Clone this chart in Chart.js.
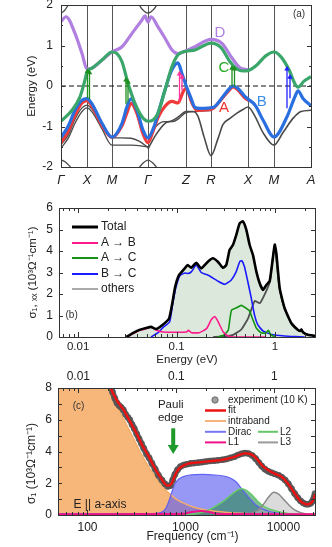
<!DOCTYPE html>
<html><head><meta charset="utf-8">
<script src="https://cdn.jsdelivr.net/npm/chart.js@4.4.0/dist/chart.umd.min.js"></script>
<style>
html,body{margin:0;padding:0;background:#fff;width:332px;height:547px;overflow:hidden;position:relative}
canvas{position:absolute;left:0}
#ca{top:0}
#cb{top:190px}
#cc{top:365px}
</style></head><body>
<canvas id="ca" width="332" height="190"></canvas>
<canvas id="cb" width="332" height="181"></canvas>
<canvas id="cc" width="332" height="182"></canvas>
<script>
// ---------- Panel (a): band structure ----------
const kPos = [0, 26, 51, 87, 125, 150, 187, 213, 250];
const kLabels = ['Γ', 'X', 'M', 'Γ', 'Z', 'R', 'X', 'M', 'A'];
const eTicks = [-2, -1, 0, 1, 2];
const bandC = [[0,-0.87],[11,-0.6],[19,-0.27],[24,0.15],[26,0.35],[31,0.44],[41,0.64],[51,0.84],[56,0.8],[61,0.6],[67,0.07],[74,-0.43],[81,-0.76],[87,-0.87],[92,-0.84],[97,-0.67],[104,-0.1],[111,0.48],[117,0.77],[125,0.86],[134,0.89],[150,1.06],[160,0.95],[169,0.6],[176,0.42],[182,0.37],[187,0.38],[195,0.5],[205,0.75],[213,0.84],[220,0.72],[228,0.4],[234,0.05],[237,-0.03],[243,0.12],[250,0.23]];
const bandD = [[0,1.59],[5,1.71],[14,1.3],[21,0.8],[26,0.42],[31,0.44],[41,0.64],[51,0.84],[61,0.97],[71,1.3],[81,1.63],[84,1.73],[87,1.58],[90,1.71],[97,1.46],[104,1.18],[111,0.89],[117,0.8],[125,0.87],[134,0.97],[150,1.15],[161,1.05],[171,0.69],[179,0.45],[187,0.4]];
const bandB = [[0,-1.27],[7,-1.0],[14,-0.6],[21,-0.35],[26,-0.31],[31,-0.44],[41,-0.92],[51,-1.26],[61,-0.92],[66,-0.51],[70,-0.32],[76,-0.6],[82,-1.09],[87,-1.28],[93,-1.0],[98,-0.6],[104,-0.1],[110,0.35],[117,0.57],[121,0.3],[125,0.02],[130,-0.3],[134,-0.53],[139,-0.55],[152,-0.53],[162,-0.26],[169,-0.05],[172,0.0],[177,-0.06],[184,-0.26],[187,-0.32],[194,-0.47],[202,-0.84],[213,-1.26],[226,-0.76],[234,-0.26],[237,-0.12],[242,-0.31],[250,-0.49]];
const bandA = [[0,-1.4],[7,-1.12],[14,-0.72],[21,-0.42],[26,-0.36],[31,-0.5],[41,-0.97],[51,-1.27],[61,-0.98],[66,-0.66],[70,-0.43],[76,-0.68],[82,-1.18],[87,-1.4],[92,-1.12],[97,-0.78],[104,-0.5],[111,-0.38],[117,-0.42],[122,-0.15],[125,-0.06],[131,-0.42],[136,-0.6],[150,-0.58],[162,-0.28],[169,-0.08],[172,-0.02],[177,-0.1],[184,-0.3],[188,-0.36]];
const greyA1 = [[0,-1.45],[7,-1.22],[14,-0.82],[21,-0.54],[26,-0.47],[31,-0.57],[41,-0.98],[51,-1.28],[60,-1.28],[70,-1.29],[78,-1.36],[87,-1.52]];
const greyA2 = [[0,-1.53],[7,-1.3],[14,-0.92],[21,-0.63],[26,-0.54],[31,-0.64],[41,-1.06],[51,-1.46],[70,-1.46],[87,-1.5]];
const greyB1 = [[87,-1.55],[95,-1.2],[104,-0.92],[111,-0.86],[118,-0.75],[125,-0.63],[132,-0.63],[137,-0.75],[143,-1.25],[150,-1.72],[157,-1.3],[162,-0.95],[169,-0.8],[176,-0.67],[182,-0.58],[187,-0.52],[194,-0.75],[202,-1.15],[213,-1.46],[222,-1.15],[232,-0.8],[240,-0.63],[250,-0.6]];
const greyB2 = [[87,-1.3],[95,-1.0],[103,-0.88],[112,-0.88],[118,-0.8],[125,-0.66],[135,-0.63],[150,-0.61]];
const arcTop1 = [[0,1.8],[3,1.85],[6,1.95],[8,2.05]];
const arcTop2 = [[77,2.05],[81,1.9],[87,1.8],[93,1.9],[97,2.05]];
const arcBot1 = [[0,-1.82],[4,-1.87],[8,-1.96],[11,-2.05]];
const arcBot2 = [[77,-2.05],[81,-1.93],[87,-1.83],[93,-1.93],[97,-2.05]];
const fermiLine = [[0,0],[250,0]];
// arrows: [k, E start, E end]
const arrowsAC = [[26.5,-0.3,0.36],[28.5,-0.33,0.33],[65,-0.45,0.15],[67,-0.4,0.1],[171,0.0,0.44],[173.5,-0.02,0.42]];
const arrowsAB = [[118.5,-0.38,0.3],[121,-0.12,0.22]];
const arrowsBC = [[226,-0.55,0.42],[229,-0.3,0.22]];

// ---------- Panel (b): calculated sigma_1,xx ----------
const bTicks = [0.01, 0.1, 1];
const totalB = [[0.031,0],[0.036,0.18],[0.042,0.33],[0.049,0.42],[0.055,0.47],[0.062,0.37],[0.072,0.56],[0.084,0.86],[0.09,1.5],[0.097,2.35],[0.105,2.85],[0.114,3.05],[0.121,3.19],[0.13,3.35],[0.141,3.22],[0.1585,3.45],[0.178,3.19],[0.208,3.5],[0.234,3.66],[0.263,3.5],[0.296,3.22],[0.32,3.35],[0.346,4.05],[0.374,4.28],[0.404,4.74],[0.438,5.29],[0.473,5.38],[0.512,4.98],[0.553,4.28],[0.598,3.81],[0.647,3.04],[0.699,2.5],[0.756,2.19],[0.818,2.42],[0.884,2.6],[0.955,3.73],[0.994,4.3],[1.033,3.89],[1.117,2.26],[1.255,1.33],[1.47,0.64],[1.71,0.33],[1.8,0.28],[1.85,0.35],[1.93,0.22],[2.16,0.1],[2.55,0.05]];
const abB = [[0.031,0],[0.0363,0.16],[0.0424,0.31],[0.0515,0.42],[0.0557,0.47],[0.0626,0.31],[0.0732,0.23],[0.1,0.22],[0.1263,0.23],[0.1314,0.31],[0.142,0.2],[0.17,0.2],[0.2019,0.39],[0.225,0.8],[0.244,0.95],[0.2653,0.7],[0.2983,0.23],[0.3353,0.05],[0.377,0],[0.8,0]];
const acB = [[0.26,0],[0.3,0.08],[0.335,0.31],[0.35,0.9],[0.3625,1.25],[0.4065,1.36],[0.455,1.47],[0.5163,1.32],[0.553,1.2],[0.598,0.79],[0.647,0.41],[0.72,0.2],[0.8,0.18],[0.857,0.31],[0.9036,0.11],[1.0,0]];
const bcB = [[0.055,0],[0.065,0.2],[0.073,0.45],[0.085,0.7],[0.091,1.48],[0.098,2.26],[0.108,2.85],[0.1215,2.98],[0.131,2.95],[0.142,3.04],[0.1585,3.35],[0.178,3.0],[0.208,2.88],[0.263,2.6],[0.31,2.45],[0.36,2.65],[0.404,3.04],[0.438,3.5],[0.46,3.55],[0.49,3.27],[0.53,2.57],[0.575,1.8],[0.62,1.02],[0.67,0.56],[0.756,0.28],[0.92,0.12],[1.25,0.05],[1.6,0.02],[2.0,0.0]];
const othersB = [[0.236,0],[0.3,0.03],[0.377,0.1],[0.455,0.35],[0.533,0.87],[0.598,1.5],[0.625,1.68],[0.7,1.57],[0.78,1.95],[0.884,2.55],[0.94,3.5],[0.994,4.28],[1.04,3.5],[1.117,2.2],[1.255,1.3],[1.47,0.62],[1.71,0.31],[1.8,0.27],[1.85,0.34],[1.93,0.2],[2.16,0.1],[2.55,0.05]];

// ---------- Panel (c): measured sigma_1 and fit ----------
const cTicks = [100, 1000, 10000];
const cTopTicks = [0.01, 0.1, 1];
const expC = [[140,9.9],[150,9.4],[160,8.8],[170,8.2],[180,7.75],[190,7.35],[200,7.05],[210,6.9],[220,6.78],[232,6.62],[245,6.35],[258,6.15],[270,6.0],[285,5.7],[300,5.45],[318,5.1],[336,4.8],[355,4.5],[375,4.2],[400,3.85],[425,3.6],[455,3.25],[490,2.9],[530,2.5],[575,2.2],[620,1.95],[660,1.8],[700,1.85],[740,2.2],[780,2.55],[830,2.85],[890,3.05],[960,3.15],[1040,3.2],[1130,3.25],[1230,3.27],[1350,3.3],[1480,3.33],[1620,3.37],[1780,3.4],[1950,3.42],[2150,3.45],[2380,3.48],[2620,3.53],[2880,3.6],[3150,3.67],[3450,3.78],[3750,3.86],[4050,3.9],[4400,3.87],[4800,3.75],[5200,3.55],[5600,3.3],[6000,3.08],[6500,2.88],[7000,2.75],[7600,2.66],[8200,2.58],[8900,2.5],[9600,2.38],[10400,2.2],[11200,1.97],[12100,1.65],[13000,1.35],[14000,1.08],[15000,0.88],[16000,0.75],[17000,0.68],[18000,0.68],[19000,0.74],[19800,0.88],[20500,1.1],[21000,1.35]];
const fitC = [[50,14],[100,11.5],[150,9],[172,8.0],[200,7.2],[235,6.6],[255,6.2],[286,5.65],[322,5.05],[362,4.4],[425,3.65],[496,2.85],[580,2.2],[655,1.85],[707,1.9],[760,2.3],[800,2.63],[860,2.92],[930,3.08],[1090,3.25],[1230,3.28],[1450,3.33],[1700,3.38],[2000,3.42],[2300,3.46],[2700,3.55],[3150,3.66],[3600,3.8],[4100,3.88],[4500,3.86],[5000,3.72],[5500,3.45],[6000,3.15],[6900,2.85],[8000,2.62],[9500,2.42],[11000,2.02],[13000,1.37],[15000,0.86],[16500,0.7],[17500,0.67],[18500,0.7],[19500,0.8],[20500,1.05],[21000,1.3]];
const intraC = [[50,14],[100,11],[150,9],[165,8],[200,6.9],[240,5.9],[290,4.9],[350,3.9],[425,3.0],[500,2.35],[580,1.8],[700,1.3],[850,0.9],[1000,0.7],[1200,0.5],[1600,0.32],[2500,0.18],[4000,0.1],[8000,0.06],[21000,0.04]];
const diracC = [[50,0.08],[450,0.09],[560,0.15],[620,0.35],[680,0.9],[730,1.5],[780,1.95],[850,2.25],[950,2.42],[1100,2.52],[1500,2.56],[2000,2.52],[2500,2.44],[2900,2.32],[3300,2.08],[3700,1.7],[4100,1.35],[4700,0.92],[5300,0.6],[6000,0.4],[7000,0.25],[8100,0.15],[10000,0.08],[13000,0.04],[21000,0.02]];
const l1C = [[50,0.05],[800,0.06],[1000,0.1],[1200,0.2],[1450,0.25],[1700,0.2],[2000,0.1],[2500,0.06],[21000,0.05]];
const l2C = [[1000,0],[1300,0.1],[1700,0.3],[2100,0.6],[2600,1.0],[3100,1.4],[3700,1.65],[4200,1.55],[4700,1.3],[5400,0.9],[6300,0.55],[8000,0.28],[11000,0.1],[15000,0.03],[21000,0.01]];
const l3C = [[3000,0],[4500,0.1],[5500,0.3],[6300,0.7],[7000,1.1],[8000,1.43],[9000,1.3],[10000,1.0],[11500,0.6],[13000,0.32],[15000,0.15],[18000,0.05],[21000,0.02]];
const CM_PER_EV = 8065.5;

// ---------- helpers ----------
Chart.defaults.font.family = "'Liberation Sans', Arial, Helvetica, sans-serif";
Chart.defaults.font.size = 12;
Chart.defaults.color = '#222';
const FONT = "'Liberation Sans', Arial, sans-serif";
const pts = arr => arr.map(([x, y]) => ({x, y}));
function ln(arr, color, width, order, extra) {
  return Object.assign({data: pts(arr), borderColor: color, backgroundColor: color, borderWidth: width,
    pointRadius: 0, fill: false, cubicInterpolationMode: 'monotone', order}, extra || {});
}
function arrowSets(list, color) {
  return list.map(([k, e0, e1]) => ({data: [{x:k, y:e0}, {x:k, y:e1}], borderColor: color, backgroundColor: color,
    borderWidth: 1.3, pointRadius: [0, 3.2], pointStyle: 'triangle', pointBorderWidth: 0, tension: 0, fill: false, order: 0}));
}
const fixW = w => s => { s.width = w; s.paddingTop = 0; s.paddingBottom = 0; s.paddingLeft = 0; s.paddingRight = 0; };
const fixH = h => s => { s.height = h; s.paddingLeft = 0; s.paddingRight = 0; s.paddingTop = 0; s.paddingBottom = 0; };
const setTicks = vals => s => { s.ticks = vals.map(v => ({value: v})); };
function logMinor(min, max) {
  const out = [];
  for (let e = Math.floor(Math.log10(min)); e <= Math.ceil(Math.log10(max)); e++)
    for (let d = 1; d <= 9; d++) { const v = d * Math.pow(10, e); if (v > min * 1.0001 && v < max * 0.9999) out.push({v, major: d === 1}); }
  return out;
}
function range(a, b, s) { const o = []; for (let v = a; v <= b + 1e-9; v += s) o.push(+v.toFixed(3)); return o; }
function framePlugin(cfg) {
  return { id: 'frame', afterDatasetsDraw(chart) {
    const {ctx, chartArea: a} = chart;
    ctx.save(); ctx.strokeStyle = '#333'; ctx.lineWidth = 1; ctx.beginPath();
    (cfg.y || []).forEach(t => { const s = chart.scales[t.scale || 'y'];
      t.values.forEach(v => { const p = Math.round(s.getPixelForValue(v)) + 0.5;
        ctx.moveTo(a.left, p); ctx.lineTo(a.left + t.len, p); ctx.moveTo(a.right, p); ctx.lineTo(a.right - t.len, p); }); });
    (cfg.x || []).forEach(t => { const s = chart.scales[t.scale];
      t.values.forEach(o => { const p = Math.round(s.getPixelForValue(o.v)) + 0.5; const L = o.major ? 5 : 3;
        if (t.side === 'bottom') { ctx.moveTo(p, a.bottom); ctx.lineTo(p, a.bottom - L); }
        else { ctx.moveTo(p, a.top); ctx.lineTo(p, a.top + L); } }); });
    ctx.stroke();
    ctx.strokeStyle = '#333';
    ctx.strokeRect(Math.round(a.left) + 0.5, Math.round(a.top) + 0.5, Math.round(a.right - a.left), Math.round(a.bottom - a.top));
    ctx.restore(); } };
}
function textPlugin(items) {
  return { id: 'txt', afterDatasetsDraw(chart) {
    const ctx = chart.ctx; ctx.save(); ctx.textBaseline = 'middle';
    items.forEach(it => {
      const x = chart.scales.x.getPixelForValue(it.x), y = chart.scales.y.getPixelForValue(it.y);
      ctx.font = it.font; ctx.fillStyle = it.color || '#222'; ctx.textAlign = it.align || 'center';
      ctx.fillText(it.text, x, y);
    }); ctx.restore(); } };
}
function legendPlugin(items, font) {
  return { id: 'lg', afterDatasetsDraw(chart) {
    const {ctx, chartArea: a} = chart; ctx.save(); ctx.font = font; ctx.textBaseline = 'middle'; ctx.textAlign = 'left';
    items.forEach(it => { const y = a.top + it.dy;
      if (it.circle) { ctx.beginPath(); ctx.arc(a.left + it.cx, y, 3.2, 0, Math.PI * 2); ctx.fillStyle = it.color; ctx.fill();
        ctx.strokeStyle = 'rgba(60,60,60,0.8)'; ctx.lineWidth = 0.8; ctx.stroke(); }
      else { ctx.strokeStyle = it.color; ctx.lineWidth = it.width; ctx.beginPath(); ctx.moveTo(a.left + it.x0, y); ctx.lineTo(a.left + it.x1, y); ctx.stroke(); }
      ctx.fillStyle = '#222'; ctx.fillText(it.text, a.left + it.tx, y); });
    ctx.restore(); } };
}
const baseOpts = () => ({responsive: false, animation: false, events: [], plugins: {legend: {display: false}, tooltip: {enabled: false}}});

// ---------- Chart (a) ----------
const GRN = '#3aa66a', PUR = '#b07fe0', BLU = '#2a6fe0', RED = '#f03a3a', GRY = '#4a4a4a';
const optsA = baseOpts();
optsA.layout = {padding: {left: 0, right: 21, top: 5, bottom: 0}};
optsA.scales = {
  x: {type: 'linear', min: 0, max: 250, afterBuildTicks: setTicks(kPos), afterFit: fixH(23),
      ticks: {callback: (v, i) => kLabels[i], font: {size: 13, style: 'italic'}, padding: 6, autoSkip: false, maxRotation: 0},
      grid: {display: true, color: '#555', lineWidth: 1, drawTicks: false}, border: {display: false}},
  y: {min: -2, max: 2, afterBuildTicks: setTicks(eTicks), afterFit: fixW(61),
      ticks: {padding: 8, font: {size: 12}}, grid: {display: false, drawTicks: false}, border: {display: false},
      title: {display: true, text: 'Energy (eV)', font: {size: 11.5}, padding: {top: 25, bottom: 0}}}
};
new Chart(document.getElementById('ca'), {
  type: 'line',
  data: {datasets: [
    ...arrowSets(arrowsAC, '#1f8f1f'), ...arrowSets(arrowsAB, '#ff3399'), ...arrowSets(arrowsBC, '#2020ff'),
    ln(bandC, GRN, 3.2, 1), ln(bandD, PUR, 3.2, 2), ln(bandB, BLU, 3.2, 3), ln(bandA, RED, 3.2, 4),
    ln(greyA1, GRY, 1.3, 5), ln(greyA2, GRY, 1.3, 5), ln(greyB1, GRY, 1.6, 5), ln(greyB2, GRY, 1.3, 5),
    ln(arcTop1, GRY, 1.3, 5), ln(arcTop2, GRY, 1.3, 5), ln(arcBot1, GRY, 1.3, 5), ln(arcBot2, GRY, 1.3, 5),
    ln(fermiLine, '#111', 1, 6, {borderDash: [5, 3], tension: 0, cubicInterpolationMode: 'default'})
  ]},
  options: optsA,
  plugins: [framePlugin({y: [{values: eTicks, len: 4}, {values: range(-1.5, 1.5, 1), len: 2}]}),
    textPlugin([
      {x: 159, y: 1.3, text: 'D', color: PUR, font: '15px ' + FONT},
      {x: 163, y: 0.44, text: 'C', color: '#22aa22', font: '15px ' + FONT},
      {x: 163, y: -0.55, text: 'A', color: '#f03030', font: '15px ' + FONT},
      {x: 200.7, y: -0.39, text: 'B', color: '#3b8ee8', font: '15px ' + FONT},
      {x: 238, y: 1.78, text: '(a)', color: '#333', font: '10px ' + FONT}])]
});

// ---------- Chart (b) ----------
const optsB = baseOpts();
optsB.layout = {padding: {left: 0, right: 17, top: 18, bottom: 0}};
optsB.plugins.filler = {drawTime: 'beforeDatasetsDraw'};
const bMin = 0.0064, bMax = 2.55;
optsB.scales = {
  x: {type: 'logarithmic', min: bMin, max: bMax, afterBuildTicks: setTicks(bTicks), afterFit: fixH(34),
      ticks: {callback: v => String(v), padding: 3, autoSkip: false, maxRotation: 0, font: {size: 11.5}},
      grid: {display: false, drawTicks: false}, border: {display: false},
      title: {display: true, text: 'Energy (eV)', font: {size: 11.5}, padding: {top: 0, bottom: 4}}},
  y: {min: 0, max: 6, afterBuildTicks: setTicks(range(0, 6, 1)), afterFit: fixW(59),
      ticks: {padding: 6, font: {size: 12}}, grid: {display: false, drawTicks: false}, border: {display: false},
      title: {display: true, text: 'σ₁, ₓₓ (10³Ω⁻¹cm⁻¹)', font: {size: 11.5}, padding: {top: 26, bottom: 0}}}
};
new Chart(document.getElementById('cb'), {
  type: 'line',
  data: {datasets: [
    ln(totalB, '#000', 2.6, 0, {fill: 'origin', backgroundColor: 'rgba(205,222,205,0.7)', cubicInterpolationMode: 'default', tension: 0.15}),
    ln(abB, '#ff1a8c', 1.6, 1, {cubicInterpolationMode: 'default', tension: 0.15}),
    ln(acB, '#139313', 1.6, 1, {cubicInterpolationMode: 'default', tension: 0.15}),
    ln(bcB, '#1a1aff', 1.6, 1, {cubicInterpolationMode: 'default', tension: 0.15}),
    ln(othersB, '#505050', 1.8, 2, {cubicInterpolationMode: 'default', tension: 0.15})
  ]},
  options: optsB,
  plugins: [framePlugin({y: [{values: range(0, 6, 1), len: 4}],
      x: [{scale: 'x', side: 'bottom', values: logMinor(bMin, bMax)}, {scale: 'x', side: 'top', values: logMinor(bMin, bMax)}]}),
    textPlugin([{x: 0.0086, y: 1.02, text: '(b)', color: '#333', font: '10px ' + FONT}]),
    legendPlugin([
      {dy: 19, x0: 13, x1: 39, tx: 42, color: '#000', width: 3, text: 'Total'},
      {dy: 35, x0: 13, x1: 39, tx: 42, color: '#ff1a8c', width: 2, text: 'A → B'},
      {dy: 50, x0: 13, x1: 39, tx: 42, color: '#139313', width: 2, text: 'A → C'},
      {dy: 66, x0: 13, x1: 39, tx: 42, color: '#1a1aff', width: 2, text: 'B → C'},
      {dy: 81, x0: 13, x1: 39, tx: 42, color: '#aaaaaa', width: 2, text: 'others'}], '12px ' + FONT)]
});

// ---------- Chart (c) ----------
const cMin = 50, cMax = 21000;
const optsC = baseOpts();
optsC.layout = {padding: {left: 0, right: 17, top: 0, bottom: 0}};
optsC.plugins.filler = {drawTime: 'beforeDatasetsDraw'};
optsC.scales = {
  x: {type: 'logarithmic', position: 'bottom', min: cMin, max: cMax, afterBuildTicks: setTicks(cTicks), afterFit: fixH(32),
      ticks: {callback: v => String(v), padding: 5, autoSkip: false, maxRotation: 0, font: {size: 12}},
      grid: {display: false, drawTicks: false}, border: {display: false},
      title: {display: true, text: '\u2002\u2002Frequency (cm⁻¹)', font: {size: 12}, padding: {top: 0, bottom: 3}}},
  x2: {type: 'logarithmic', position: 'top', min: cMin / CM_PER_EV, max: cMax / CM_PER_EV, afterBuildTicks: setTicks(cTopTicks), afterFit: fixH(23),
      ticks: {callback: v => String(v), padding: 4, autoSkip: false, maxRotation: 0, font: {size: 12}},
      grid: {display: false, drawTicks: false}, border: {display: false}},
  y: {min: 0, max: 8, afterBuildTicks: setTicks(range(0, 8, 2)), afterFit: fixW(58),
      ticks: {padding: 6, font: {size: 12}}, grid: {display: false, drawTicks: false}, border: {display: false},
      title: {display: true, text: 'σ₁ (10³Ω⁻¹cm⁻¹)\u2002\u2002\u2002\u2002', font: {size: 12}, padding: {top: 24, bottom: 0}}}
};
new Chart(document.getElementById('cc'), {
  type: 'line',
  data: {datasets: [
    ln(fitC, '#ee1111', 2.4, 0),
    ln(expC, 'rgba(85,85,85,0.9)', 6, 1, {pointRadius: 3.3, pointBackgroundColor: 'rgba(85,85,85,0.9)', pointBorderWidth: 0}),
    ln(l1C, '#ee1188', 2, 2),
    ln(l3C, '#8a8a8a', 1.5, 3, {fill: 'origin', backgroundColor: 'rgba(190,190,190,0.55)'}),
    ln(l2C, '#66cc66', 1.5, 4, {fill: 'origin', backgroundColor: 'rgba(40,140,80,0.6)'}),
    ln(diracC, 'rgba(90,90,245,0.9)', 1.2, 5, {fill: 'origin', backgroundColor: 'rgba(95,95,240,0.65)'}),
    ln(intraC, '#f5ad6a', 1.5, 6, {fill: 'origin', backgroundColor: 'rgba(245,165,90,0.8)'})
  ]},
  options: optsC,
  plugins: [framePlugin({y: [{values: range(0, 8, 1), len: 4}],
      x: [{scale: 'x', side: 'bottom', values: logMinor(cMin, cMax)}, {scale: 'x2', side: 'top', values: logMinor(cMin / CM_PER_EV, cMax / CM_PER_EV)}]}),
    textPlugin([
      {x: 81, y: 6.85, text: '(c)', color: '#333', font: '10px ' + FONT},
      {x: 707, y: 6.95, text: 'Pauli', color: '#222', font: '11.5px ' + FONT},
      {x: 707, y: 6.1, text: 'edge', color: '#222', font: '11.5px ' + FONT},
      {x: 72, y: 0.66, text: 'E || a-axis', color: '#222', font: '12px ' + FONT, align: 'left'}]),
    { id: 'pauliArrow', afterDatasetsDraw(chart) {
        const ctx = chart.ctx, xs = chart.scales.x, ys = chart.scales.y;
        const px = xs.getPixelForValue(750), y1 = ys.getPixelForValue(5.46), y2 = ys.getPixelForValue(3.84);
        ctx.save(); ctx.fillStyle = '#1f9a2a';
        ctx.fillRect(px - 2, y1, 4, (y2 - 9) - y1);
        ctx.beginPath(); ctx.moveTo(px - 5.5, y2 - 9); ctx.lineTo(px + 5.5, y2 - 9); ctx.lineTo(px, y2); ctx.closePath(); ctx.fill();
        ctx.restore(); } },
    legendPlugin([
      {dy: 12, circle: true, cx: 157, tx: 170, color: 'rgba(150,150,150,0.9)', text: 'experiment (10 K)'},
      {dy: 22.5, x0: 147, x1: 168, tx: 170, color: '#ee1111', width: 2.5, text: 'fit'},
      {dy: 33, x0: 147, x1: 168, tx: 170, color: '#f7b47a', width: 2, text: 'intraband'},
      {dy: 43.8, x0: 147, x1: 168, tx: 170, color: '#7878f5', width: 2, text: 'Dirac'},
      {dy: 54.4, x0: 147, x1: 168, tx: 170, color: '#ee1188', width: 2, text: 'L1'},
      {dy: 43.8, x0: 200, x1: 220, tx: 222, color: '#66c566', width: 2, text: 'L2'},
      {dy: 54.4, x0: 200, x1: 220, tx: 222, color: '#9a9a9a', width: 2, text: 'L3'}], '10px ' + FONT)]
});
</script>
</body></html>
